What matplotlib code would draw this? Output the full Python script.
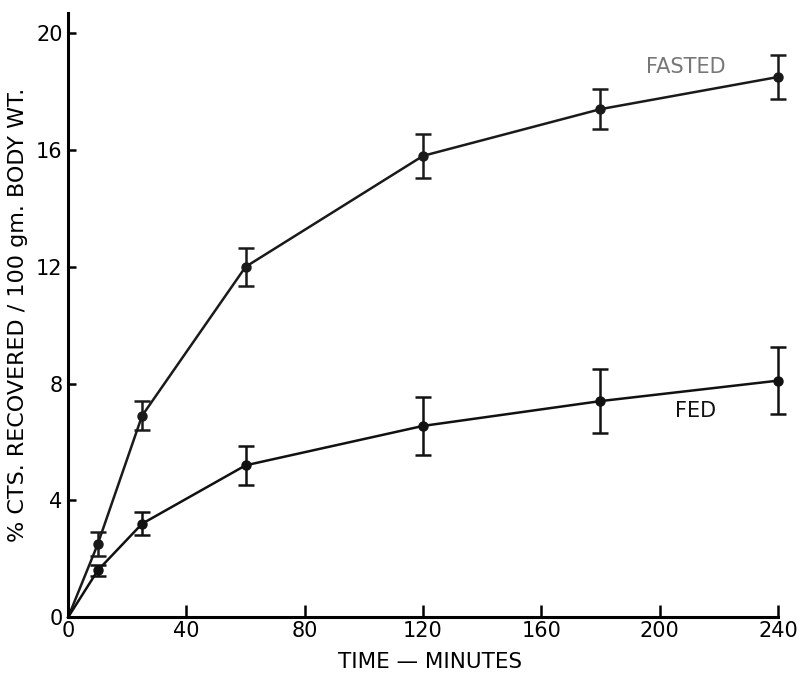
import numpy as np
import matplotlib
matplotlib.use("Agg")
import matplotlib.pyplot as plt

# values (minutes, % counts recovered / 100 gm body wt.)
time = [0, 10, 25, 60, 120, 180, 240]
fasted = [0, 2.5, 6.9, 12.0, 15.8, 17.4, 18.5]
fasted_err = [0, 0.42, 0.5, 0.65, 0.75, 0.68, 0.77]
fed = [0, 1.6, 3.2, 5.2, 6.55, 7.4, 8.1]
fed_err = [0, 0.2, 0.4, 0.67, 0.98, 1.1, 1.15]

xticks = [0, 40, 80, 120, 160, 200, 240]
yticks = [0, 4, 8, 12, 16, 20]

plt.rcParams['font.family'] = ['DejaVu Sans']

fig = plt.figure(figsize=(8.02, 6.73), dpi=100)
ax = fig.add_axes([0.085, 0.083, 0.885, 0.898])

def series(y, err, col):
    ax.plot(time, y, color=col, lw=1.8, zorder=2, clip_on=False)
    eb = ax.errorbar(time[1:], y[1:], yerr=err[1:], fmt='o', color=col, ms=6.5,
                     elinewidth=1.8, capsize=5.5, capthick=1.8, zorder=3)
    for a in eb.lines[0:1] + tuple(eb.lines[1]) + tuple(eb.lines[2]):
        a.set_clip_on(False)

series(fasted, fasted_err, '#1a1a1a')
series(fed, fed_err, '#111111')

ax.text(209, 18.85, 'FASTED', color='#777777', fontsize=15,
        ha='center', va='center')
ax.text(212, 7.05, 'FED', color='#111111', fontsize=15,
        ha='center', va='center')

ax.set_xlim(0, 240)
ax.set_ylim(0, 20.7)
ax.set_xticks(xticks)
ax.set_yticks(yticks)
ax.tick_params(axis='x', direction='in', length=9, width=1.8, labelsize=15,
               pad=3)
ax.tick_params(axis='y', direction='in', length=6, width=1.8, labelsize=15,
               pad=4)
for s in ['top', 'right']:
    ax.spines[s].set_visible(False)
for s in ['left', 'bottom']:
    ax.spines[s].set_linewidth(2.2)
ax.spines['bottom'].set_bounds(0, 240)

ax.set_xlabel('TIME \u2014 MINUTES', fontsize=15.5, labelpad=1)
ax.xaxis.set_label_coords(0.51, -0.058)
ax.set_ylabel('% CTS. RECOVERED / 100 gm. BODY WT.', fontsize=16,
              labelpad=6)

fig.savefig('out.png', dpi=100)
